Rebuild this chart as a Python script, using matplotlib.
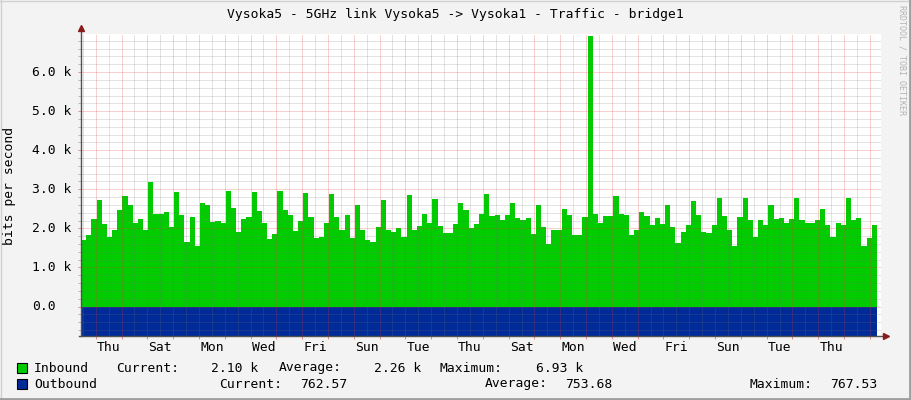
import numpy as np
import matplotlib
matplotlib.use('Agg')
import matplotlib.pyplot as plt
import matplotlib.transforms as mtransforms
from matplotlib.patches import Rectangle
from matplotlib.lines import Line2D

# inbound traffic, kbit/s, one value per ~4.8 h step
inbound_k = [
    1.69, 1.82, 2.23, 2.72, 2.11, 1.78, 1.97, 2.46, 2.82, 2.59, 2.15, 2.23, 1.96, 3.18, 2.36, 2.36,
    2.41, 2.03, 2.92, 2.33, 1.65, 2.28, 1.55, 2.66, 2.59, 2.16, 2.19, 2.15, 2.95, 2.51, 1.90,
    2.23, 2.28, 2.92, 2.44, 2.13, 1.72, 1.85, 2.95, 2.46, 2.33, 1.92, 2.18, 2.90, 2.28, 1.75,
    1.79, 2.15, 2.87, 2.28, 1.97, 2.33, 1.75, 2.59, 1.97, 1.69, 1.64, 2.03, 2.72, 1.95, 1.90, 2.00,
    1.79, 2.85, 1.97, 2.05, 2.38, 2.15, 2.74, 2.05, 1.87, 1.87, 2.10, 2.64, 2.46, 2.00, 2.10,
    2.36, 2.87, 2.31, 2.33, 2.21, 2.33, 2.64, 2.26, 2.21, 2.26, 1.85, 2.59, 2.03, 1.59, 1.97, 1.95,
    2.49, 2.33, 1.82, 1.82, 2.28, 6.93, 2.36, 2.15, 2.31, 2.31, 2.82, 2.36, 2.33, 1.82, 1.97,
    2.41, 2.31, 2.08, 2.26, 2.10, 2.59, 2.03, 1.62, 1.90, 2.08, 2.69, 2.33, 1.90, 1.87, 2.08, 2.77,
    2.31, 1.97, 1.54, 2.28, 2.79, 2.21, 1.79, 2.21, 2.08, 2.59, 2.23, 2.26, 2.13, 2.23, 2.79,
    2.21, 2.13, 2.13, 2.21, 2.49, 2.08, 1.79, 2.15, 2.08, 2.79, 2.21, 2.26, 1.56, 1.75, 2.08,
]
# outbound traffic, bit/s, one value per day (plotted downwards)
outbound = [748, 752, 755, 750, 757, 753, 749, 756, 751, 754, 758, 750, 752, 755, 749, 753,
            756, 751, 767.53, 754, 750, 752, 757, 753, 748, 755, 751, 754, 756, 752, 762.57]

day_labels = ['Thu', 'Sat', 'Mon', 'Wed', 'Fri', 'Sun', 'Tue', 'Thu',
              'Sat', 'Mon', 'Wed', 'Fri', 'Sun', 'Tue', 'Thu']
ytick_vals = [0, 1, 2, 3, 4, 5, 6]
ytick_labels = ['0.0', '1.0 k', '2.0 k', '3.0 k', '4.0 k', '5.0 k', '6.0 k']

title = 'Vysoka5 - 5GHz link Vysoka5 -> Vysoka1 - Traffic - bridge1'

GREEN = '#00cc00'
BLUE = '#002a97'
BG = '#f3f3f3'
FONT = 'DejaVu Sans Mono'
FS = 9.4

W, H = 911, 400
def fx(x): return x / W
def fy(y): return 1 - y / H

span = 31.0                  # days shown
data_end = span * 796 / 800  # last sample
first_midnight = 0.57        # first day boundary after start

fig = plt.figure(figsize=(W / 100, H / 100), dpi=100, facecolor=BG)
ax = fig.add_axes([fx(81), 64 / H, 800 / W, 302 / H])
ax.set_facecolor('white')
ymin, ymax = -0.755, 6.975
ax.set_xlim(0, span)
ax.set_ylim(ymin, ymax)

# data
edges_in = np.linspace(0, data_end, len(inbound_k) + 1)
ax.stairs(inbound_k, edges_in, fill=True, baseline=0, color=GREEN, zorder=2)
edges_out = np.linspace(0, data_end, len(outbound) + 1)
ax.stairs(-np.array(outbound) / 1000, edges_out, fill=True, baseline=0, color=BLUE, zorder=2)

# grid (drawn on top, rrdtool style, 1px dotted)
minor_c = (0.45, 0.45, 0.45, 0.4)
major_c = (0.9, 0.2, 0.2, 0.45)
dots = (0, (1, 1))
gkw = dict(lw=0.72, ls=dots, zorder=3, snap=True)
ygrid_minor = [v for v in np.arange(-0.6, 6.9, 0.2) if abs(v - round(v)) > 1e-6]
for v in ygrid_minor:
    ax.axhline(v, color=minor_c, **gkw)
for v in ytick_vals:
    ax.axhline(v, color=major_c, **gkw)
noons = np.arange(first_midnight - 0.5, span, 1.0)
midnights = np.arange(first_midnight, span, 1.0)
for d in noons:
    ax.axvline(d, color=minor_c, **gkw)
for d in midnights:
    ax.axvline(d, color=major_c, **gkw)

# ticks
ax.set_xticks([first_midnight + 0.5 + 2 * i for i in range(len(day_labels))])
ax.set_xticklabels(day_labels, fontfamily=FONT, fontsize=FS)
ax.set_xticks(midnights, minor=True)
ax.tick_params(axis='x', which='major', length=0, pad=3.5, colors='#000000')
ax.tick_params(axis='x', which='minor', length=2.2, width=0.72, color=(0.9, 0.3, 0.3, 0.6))
ax.set_yticks(ytick_vals)
ax.set_yticks(ygrid_minor, minor=True)
ax.tick_params(axis='y', which='major', length=2.2, width=0.72, color=(0.9, 0.3, 0.3, 0.6),
               labelleft=False)
ax.tick_params(axis='y', which='minor', length=2.2, width=0.72, color=(0.5, 0.5, 0.5, 0.5))
for s in ax.spines.values():
    s.set_visible(False)

ylab_tr = mtransforms.blended_transform_factory(fig.transFigure, ax.transData)
for v, lab in zip(ytick_vals, ytick_labels):
    ax.text(fx(32), v, lab, transform=ylab_tr, ha='left', va='center',
            fontfamily=FONT, fontsize=FS)

# axes with arrows
ax.plot([0, 0], [ymin, 7.1], color='#505050', lw=1, clip_on=False, zorder=4)
ax.plot([-0.08, 31.12], [ymin, ymin], color='#505050', lw=1, clip_on=False, zorder=4)
ax.plot([0], [7.13], marker='^', ms=4, color='#8b1a1a', clip_on=False, zorder=5)
ax.plot([31.2], [ymin], marker='>', ms=4, color='#8b1a1a', clip_on=False, zorder=5)

# texts
fig.text(0.5, fy(14.5), title, ha='center', va='center', fontfamily=FONT, fontsize=FS)
fig.text(fx(10), fy(186), 'bits per second', rotation=90, ha='center', va='center',
         fontfamily=FONT, fontsize=FS)
fig.text(fx(902), fy(60), 'RRDTOOL / TOBI OETIKER', rotation=270, ha='center', va='center',
         fontfamily=FONT, fontsize=6, color='#b4b4b4')

# legend
rows = [
    (368, GREEN, 'Inbound', [('Current:', 116.3, 'l'), ('2.10 k', 258.5, 'r'),
                             ('Average:', 279, 'l'), ('2.26 k', 421, 'r'),
                             ('Maximum:', 439.3, 'l'), ('6.93 k', 583, 'r')]),
    (384, BLUE, 'Outbound', [('Current:', 219, 'l'), ('762.57', 347, 'r'),
                             ('Average:', 485, 'l'), ('753.68', 612.5, 'r'),
                             ('Maximum:', 749.3, 'l'), ('767.53', 877.5, 'r')]),
]
for y, col, name, items in rows:
    fig.add_artist(Rectangle((fx(17), fy(y + 5)), 10 / W, 10 / H, facecolor=col,
                             edgecolor='black', lw=0.8, transform=fig.transFigure))
    fig.text(fx(34), fy(y), name, ha='left', va='center', fontfamily=FONT, fontsize=FS)
    for txt, x, al in items:
        fig.text(fx(x), fy(y), txt, ha='left' if al == 'l' else 'right', va='center',
                 fontfamily=FONT, fontsize=FS)

# frame around the image
fig.add_artist(Line2D([0, 1], [fy(0.5), fy(0.5)], color='#d0d0d0', lw=1, transform=fig.transFigure))
fig.add_artist(Line2D([fx(0.5), fx(0.5)], [0, 1], color='#d0d0d0', lw=1, transform=fig.transFigure))
fig.add_artist(Line2D([0, 1], [fy(398.5), fy(398.5)], color='#9e9e9e', lw=2, transform=fig.transFigure))
fig.add_artist(Line2D([fx(909.5), fx(909.5)], [0, 1], color='#9e9e9e', lw=2, transform=fig.transFigure))

fig.savefig('out.png', dpi=100, facecolor=BG)
